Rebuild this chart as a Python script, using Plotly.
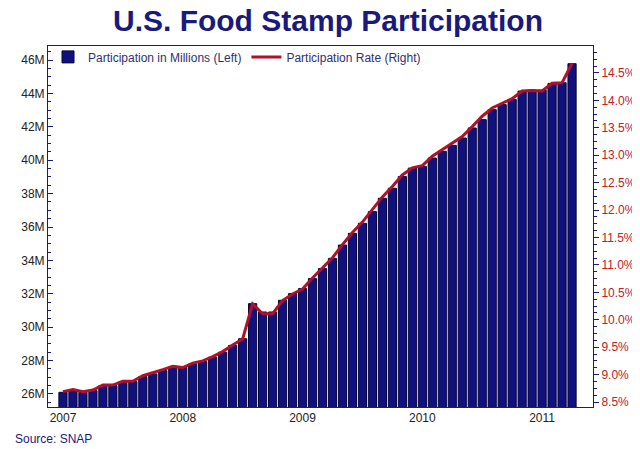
import plotly.graph_objects as go

# monthly, Jan 2007 onwards
participation_m = [26.10, 26.24, 26.10, 26.20, 26.50, 26.50, 26.74, 26.74, 27.04, 27.20,
                   27.40, 27.60, 27.60, 27.80, 27.94, 28.20, 28.50, 28.91, 29.31, 31.41,
                   30.91, 30.91, 31.61, 32.01, 32.31, 32.91, 33.51, 34.12, 34.92, 35.62,
                   36.22, 36.92, 37.72, 38.32, 39.02, 39.53, 39.63, 40.13, 40.53, 40.89,
                   41.33, 41.93, 42.43, 43.03, 43.33, 43.64, 44.14, 44.20, 44.20, 44.60,
                   44.64, 45.78]
rate_pct = [8.69, 8.73, 8.69, 8.72, 8.81, 8.81, 8.88, 8.88, 8.98, 9.03,
            9.09, 9.15, 9.13, 9.21, 9.25, 9.33, 9.42, 9.54, 9.65, 10.29,
            10.11, 10.11, 10.35, 10.47, 10.56, 10.76, 10.94, 11.13, 11.37, 11.59,
            11.78, 12.00, 12.24, 12.43, 12.64, 12.77, 12.81, 12.98, 13.10, 13.22,
            13.34, 13.52, 13.71, 13.86, 13.95, 14.03, 14.17, 14.18, 14.17, 14.31,
            14.32, 14.67]
year_ticks = [0, 12, 24, 36, 48]
year_labels = ["2007", "2008", "2009", "2010", "2011"]
left_ticks = list(range(26, 47, 2))
right_ticks = [8.5 + 0.5 * i for i in range(13)]

idx = list(range(len(participation_m)))
navy = "#1a1a7a"

fig = go.Figure()
fig.add_trace(go.Bar(x=idx, y=participation_m, name="Participation in Millions (Left)",
                     marker=dict(color="#10107e", line=dict(color="#05053a", width=1)),
                     width=0.82))
fig.add_trace(go.Scatter(x=idx, y=rate_pct, name="Participation Rate (Right)", yaxis="y2",
                         mode="lines", line=dict(color="#b0102a", width=3)))

fig.update_layout(
    width=640, height=449,
    margin=dict(l=40, r=43, t=38, b=50),
    paper_bgcolor="white", plot_bgcolor="white",
    font=dict(family="Liberation Sans, Arial", size=12, color="#222"),
    title=dict(text="<b>U.S. Food Stamp Participation</b>", x=0.5, xanchor="center",
               y=0.995, yanchor="top", font=dict(size=30, color=navy)),
    showlegend=True,
    legend=dict(orientation="h", x=0.0, y=1.01, xanchor="left", yanchor="top",
                bgcolor="rgba(0,0,0,0)", font=dict(size=12, color="#303070")),
    xaxis=dict(range=[-1.5, 53.1], tickvals=year_ticks, ticktext=year_labels,
               showgrid=False, showline=True, linecolor=navy, mirror=True,
               ticks="", zeroline=False),
    yaxis=dict(range=[25.22, 46.84], tickvals=left_ticks,
               ticktext=[f"{v}M" for v in left_ticks],
               showgrid=False, showline=True, linecolor=navy, ticks="inside",
               tickcolor=navy, ticklen=5, zeroline=False,
               minor=dict(dtick=0.5, ticks="inside", ticklen=3, tickcolor=navy)),
    yaxis2=dict(range=[8.41, 14.99], overlaying="y", side="right",
                tickvals=right_ticks, ticktext=[f"{v:.1f}%" for v in right_ticks],
                tickfont=dict(color="#c0202a"), showgrid=False, showline=True,
                linecolor=navy, ticks="outside", tickcolor=navy, ticklen=5,
                zeroline=False,
                minor=dict(dtick=0.125, ticks="outside", ticklen=3, tickcolor=navy)),
    annotations=[dict(text="Source: SNAP", xref="paper", yref="paper", x=-0.065, y=-0.065,
                      xanchor="left", yanchor="top", showarrow=False,
                      font=dict(size=12, color=navy))],
)

fig.write_html("out.html")
